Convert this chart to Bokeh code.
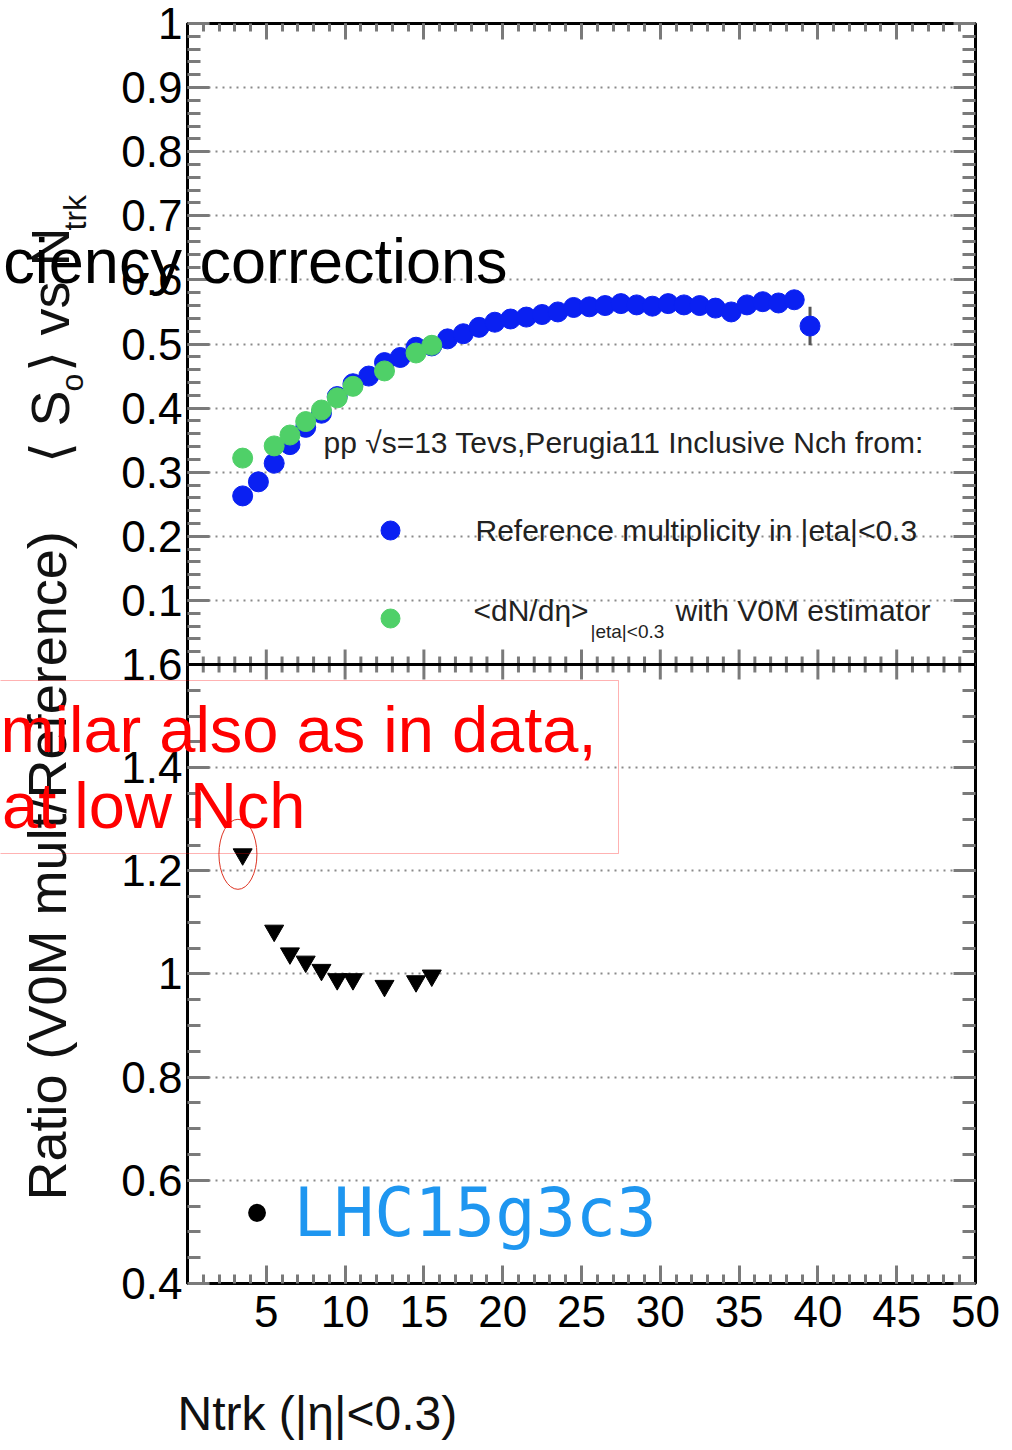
import numpy as np
from bokeh.plotting import figure
from bokeh.layouts import column
from bokeh.models import (Range1d, LinearAxis, FixedTicker, Label, BoxAnnotation,
                          Span, Grid, CustomJSTickFormatter, Plot)
from bokeh.embed import file_html
from bokeh.resources import INLINE

# ---------------- data ----------------
ntrk_ref = [3.5, 4.5, 5.5, 6.5, 7.5, 8.5, 9.5, 10.5, 11.5, 12.5, 13.5, 14.5, 15.5,
            16.5, 17.5, 18.5, 19.5, 20.5, 21.5, 22.5, 23.5, 24.5, 25.5, 26.5, 27.5,
            28.5, 29.5, 30.5, 31.5, 32.5, 33.5, 34.5, 35.5, 36.5, 37.5, 38.5, 39.5]
s0_ref = [0.263, 0.285, 0.314, 0.343, 0.370, 0.392, 0.418, 0.438, 0.450, 0.471,
          0.479, 0.495, 0.497, 0.508, 0.516, 0.526, 0.534, 0.539, 0.542, 0.546,
          0.550, 0.557, 0.558, 0.560, 0.563, 0.561, 0.559, 0.563, 0.561, 0.560,
          0.556, 0.550, 0.561, 0.566, 0.564, 0.569, 0.528]
s0_ref_err = [0.002, 0.002, 0.002, 0.002, 0.002, 0.002, 0.002, 0.002, 0.002, 0.002,
              0.002, 0.002, 0.002, 0.002, 0.002, 0.002, 0.002, 0.002, 0.002, 0.002,
              0.002, 0.002, 0.002, 0.002, 0.003, 0.003, 0.003, 0.003, 0.003, 0.004,
              0.004, 0.005, 0.006, 0.008, 0.009, 0.013, 0.030]

ntrk_v0m = [3.5, 5.5, 6.5, 7.5, 8.5, 9.5, 10.5, 12.5, 14.5, 15.5]
s0_v0m = [0.322, 0.341, 0.358, 0.379, 0.397, 0.416, 0.434, 0.458, 0.486, 0.498]
ratio_v0m_ref = [1.232, 1.084, 1.040, 1.024, 1.008, 0.990, 0.990, 0.977, 0.986, 0.997]

x_major = [5, 10, 15, 20, 25, 30, 35, 40, 45, 50]
top_ticks = [0.1, 0.2, 0.3, 0.4, 0.5, 0.6, 0.7, 0.8, 0.9, 1.0]
top_labels = ["0.1", "0.2", "0.3", "0.4", "0.5", "0.6", "0.7", "0.8", "0.9", "1"]
ratio_ticks = [0.4, 0.6, 0.8, 1.0, 1.2, 1.4, 1.6]
ratio_labels = ["0.4", "0.6", "0.8", "1", "1.2", "1.4", "1.6"]

# ---------------- layout (pixels) ----------------
W, H = 1012, 1450
FL, FR, FT, FB = 187, 975, 23, 1283
SEP = 664
XMAX = 50.0
PX_TOP = SEP - FT
PX_BOT = FB - SEP
Y0 = -PX_BOT / PX_TOP
R_PER = PX_BOT / 1.2
R_TOP = 1.6 + PX_TOP / R_PER
K = 0.35          # baseline correction (fraction of font size)
EPS = 1e-6


def r2y(r):
    return (r - 1.6) * R_PER / PX_TOP


def dx(px):
    return (px - FL) / (FR - FL) * XMAX


def dy(py):
    return (SEP - py) / PX_TOP


BLUE = "#0a20f2"
GREEN = "#4fd068"
FONT = "Liberation Sans"

p = figure(width=W, height=H, x_range=Range1d(0, XMAX),
           y_range=Range1d(Y0 - EPS, 1.0 + EPS),
           output_backend="svg", toolbar_location=None,
           x_axis_type=None, y_axis_type=None,
           min_border_left=FL, min_border_right=W - FR,
           min_border_top=FT, min_border_bottom=H - FB)
p.extra_y_ranges = {"ratio": Range1d(0.4 - EPS, R_TOP)}
p.background_fill_color = "white"
p.border_fill_color = "white"
p.outline_line_color = "black"
p.outline_line_width = 3

# ---- tickers ----
x_minor = [v for v in range(1, 50)]
xt = FixedTicker(ticks=x_major, minor_ticks=x_minor)

y_major = top_ticks + [r2y(r) for r in ratio_ticks]
y_lab = top_labels + ratio_labels
y_minor = [round(0.02 * k, 2) for k in range(1, 50)] + \
          [r2y(0.4 + 0.05 * k) for k in range(1, 24)]
yt = FixedTicker(ticks=y_major, minor_ticks=y_minor)

yfmt = CustomJSTickFormatter(args=dict(pos=y_major, lab=y_lab), code="""
let best = 0, bd = 1e9;
for (let i = 0; i < pos.length; i++) {
  const d = Math.abs(pos[i] - tick);
  if (d < bd) { bd = d; best = i; }
}
return lab[best];
""")
blank = CustomJSTickFormatter(code="return '';")

TICK_COL = "#7a7a7a"


def style(ax, major, minor):
    ax.axis_line_color = "black"
    ax.axis_line_width = 3
    ax.major_tick_in = major
    ax.major_tick_out = 0
    ax.minor_tick_in = minor
    ax.minor_tick_out = 0
    ax.major_tick_line_color = TICK_COL
    ax.minor_tick_line_color = TICK_COL
    ax.major_tick_line_width = 3
    ax.minor_tick_line_width = 3
    ax.major_label_text_font = FONT
    ax.major_label_text_font_size = "44px"
    ax.major_label_text_color = "black"


xb = LinearAxis(ticker=xt)
style(xb, 18, 9)
xb.major_label_standoff = 12
p.add_layout(xb, "below")

xa = LinearAxis(ticker=xt, formatter=blank)
style(xa, 16, 8)
p.add_layout(xa, "above")

yl = LinearAxis(ticker=yt, formatter=yfmt)
style(yl, 22, 13)
yl.major_label_standoff = 5
p.add_layout(yl, "left")

yr = LinearAxis(ticker=yt, formatter=blank)
style(yr, 22, 13)
p.add_layout(yr, "right")

p.add_layout(Grid(dimension=1, ticker=yt, grid_line_color="#8a8a8a",
                  grid_line_width=2, grid_line_dash="2 5"))

# separator between the two panels, with its own x ticks
p.add_layout(Span(location=0, dimension="width", line_color="black", line_width=3))
sep_major = [v for v in x_major if v < XMAX]
sep_minor = [v for v in x_minor if v % 5 != 0]
p.segment(x0=sep_major, y0=[-15 / PX_TOP] * len(sep_major), x1=sep_major,
          y1=[15 / PX_TOP] * len(sep_major), line_color=TICK_COL, line_width=3)
p.segment(x0=sep_minor, y0=[-8 / PX_TOP] * len(sep_minor), x1=sep_minor,
          y1=[8 / PX_TOP] * len(sep_minor), line_color=TICK_COL, line_width=3)

# ---- data marks ----
lo = [v - e for v, e in zip(s0_ref, s0_ref_err)]
hi = [v + e for v, e in zip(s0_ref, s0_ref_err)]
p.segment(x0=ntrk_ref, y0=lo, x1=ntrk_ref, y1=hi, line_color="#555555", line_width=3)
p.scatter(ntrk_ref, s0_ref, marker="circle", size=20, fill_color=BLUE, line_color=BLUE)
p.scatter(ntrk_v0m, s0_v0m, marker="circle", size=20, fill_color=GREEN, line_color=GREEN)
p.scatter(ntrk_v0m, ratio_v0m_ref, marker="inverted_triangle", size=19,
          fill_color="black", line_color="black", y_range_name="ratio")

# legend keys
p.scatter([dx(390)], [dy(530)], marker="circle", size=19, fill_color=BLUE, line_color=BLUE)
p.scatter([dx(390)], [dy(618)], marker="circle", size=19, fill_color=GREEN, line_color=GREEN)

# highlight ellipse around first ratio point
p.ellipse(x=[ntrk_v0m[0] - 0.3], y=[ratio_v0m_ref[0]], width=38, height=70,
          width_units="screen", height_units="screen", y_range_name="ratio",
          fill_color=None, line_color="#dd3322", line_width=1)


def plab(text, px, py, size, color="#222222"):
    p.add_layout(Label(x=dx(px), y=dy(py - K * size), text=text, text_font=FONT,
                       text_font_size=f"{size}px", text_color=color,
                       text_align="left", text_baseline="alphabetic"))


# legend text
plab("pp √s=13 Tevs,Perugia11 Inclusive Nch from:", 323, 452, 30)
plab("Reference multiplicity in |eta|<0.3", 475, 540, 30)
plab("<dN/dη>", 473, 620, 30)
plab("|eta|<0.3", 590, 638, 19)
plab("with V0M estimator", 675, 620, 30)

# ---------------- overlay figure (page pixels) for texts outside the frame ----------------
q = figure(width=W, height=H, x_range=Range1d(0, W), y_range=Range1d(H, 0),
           output_backend="svg", toolbar_location=None,
           x_axis_type=None, y_axis_type=None, min_border=0)
q.background_fill_color = None
q.border_fill_color = None
q.outline_line_color = None
q.xgrid.visible = False
q.ygrid.visible = False
q.margin = (-H, 0, 0, 0)


def qlab(text, px, py, size, color="#111111", font=FONT, align="left", rot=False):
    if rot:
        x, y, ang = px - K * size, py, np.pi / 2
    else:
        x, y, ang = px, py - K * size, 0.0
    q.add_layout(Label(x=x, y=y, text=text, text_font=font,
                       text_font_size=f"{size}px", text_color=color,
                       text_align=align, text_baseline="alphabetic", angle=ang))


# axis titles
qlab("Ratio (V0M mult/Reference)", 65, 1200, 54, rot=True)
qlab("⟨ S", 68, 462, 54, rot=True)
qlab("o", 83, 391, 32, rot=True)
qlab("⟩ vs N", 68, 371, 54, rot=True)
qlab("trk", 86, 230, 32, rot=True)
qlab("Ntrk (|η|<0.3)", 177, 1430, 48)

# slide overlays
qlab("ciency corrections", 507, 283, 63, color="black", align="right")
q.add_layout(BoxAnnotation(left=-20, right=618, top=680, bottom=853,
                           fill_alpha=0, line_color="#ff0000", line_width=1))
qlab("milar also as in data,", 596, 752, 65, color="#ff0000", align="right")
qlab("at low Nch", 305, 828, 65, color="#ff0000", align="right")
qlab("•", 245, 1235, 66, color="black")
qlab("LHC15g3c3", 293, 1236, 67, color="#1e96f0", font="DejaVu Sans Mono")

if "frame_align" in Plot.properties():
    p.frame_align = False
    q.frame_align = False
    html = file_html(column(p, q), INLINE)
else:
    html = file_html([p, q], INLINE)

open("out.html", "w").write(html)
